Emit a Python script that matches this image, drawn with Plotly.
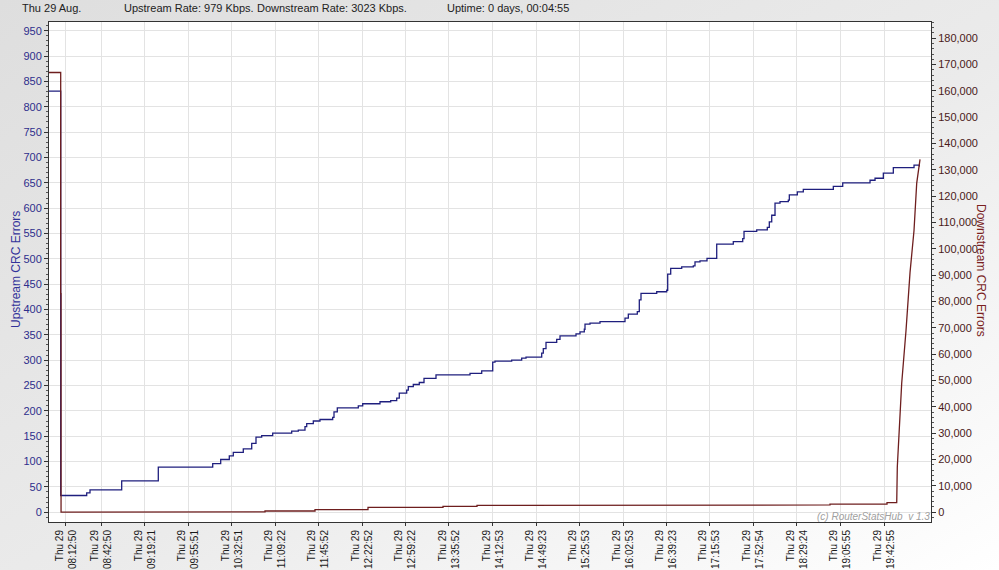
import base64
import plotly.graph_objects as go

DAY = "2013-08-29"

# Upstream CRC errors (left axis), step changes: time -> value
up_times = ["07:58:30", "08:08:22", "08:30:18", "08:33:05", "08:59:49", "09:30:42",
            "10:16:36", "10:23:20", "10:30:36", "10:33:58", "10:42:24", "10:49:30",
            "10:53:07", "10:57:55", "11:07:12", "11:23:14", "11:28:48", "11:34:27",
            "11:35:54", "11:41:28", "11:47:06", "11:57:49", "11:58:55", "12:01:42",
            "12:19:25", "12:23:08", "12:37:43", "12:46:45", "12:51:49", "12:54:00",
            "13:00:15", "13:01:36", "13:05:49", "13:10:52", "13:14:51", "13:24:58",
            "13:53:39", "14:03:31", "14:12:48", "14:14:44", "14:28:49", "14:37:15",
            "14:40:53", "14:54:08", "14:55:29", "14:57:46", "15:06:47", "15:09:34",
            "15:23:04", "15:26:27", "15:30:04", "15:30:40", "15:34:53", "15:43:19",
            "16:04:24", "16:07:12", "16:14:47", "16:16:28", "16:17:54", "16:31:09",
            "16:39:35", "16:40:25", "16:42:57", "16:52:14", "17:02:01", "17:03:27",
            "17:07:40", "17:13:35", "17:21:46", "17:35:46", "17:43:42", "17:44:48",
            "17:55:31", "18:04:27", "18:06:08", "18:08:10", "18:10:57", "18:15:10",
            "18:22:10", "18:23:01", "18:29:46", "18:34:49", "19:00:08", "19:08:04",
            "19:31:06", "19:35:19", "19:42:19", "19:50:45", "20:08:13", "20:12:41"]
up_values = [831, 33, 38, 44, 62, 89,
             96, 104, 111, 118, 125, 136,
             148, 151, 156, 160, 162, 169,
             175, 180, 183, 187, 198, 206,
             210, 214, 218, 220, 225, 235,
             241, 248, 252, 256, 264, 271,
             274, 279, 296, 298, 300, 304,
             306, 314, 323, 335, 341, 348,
             352, 356, 361, 371, 373, 376,
             383, 391, 396, 419, 432, 435,
             438, 470, 481, 484, 486, 494,
             496, 501, 529, 534, 540, 554,
             557, 562, 573, 586, 610, 613,
             616, 626, 632, 637, 643, 650,
             655, 659, 669, 680, 685, 682]

# Downstream CRC errors (right axis), step part
down_times = ["07:58:30", "08:08:22", "08:08:40", "09:15:16", "11:00:43", "11:42:54",
              "12:27:36", "13:30:52", "13:59:33", "17:27:04", "18:57:20", "19:45:26",
              "19:53:37"]
down_values = [167000, 83000, 0, 100, 450, 950,
               1850, 2250, 2600, 2750, 3100, 3600,
               3600]
# Downstream CRC errors, final climb (sampled continuously)
rise_times = ["19:54:07", "19:57:49", "20:01:27", "20:04:50", "20:08:12", "20:10:29", "20:13:16"]
rise_values = [17300, 49000, 69000, 91000, 107000, 125000, 134000]

tick_times = ["08:12:50", "08:42:50", "09:19:21", "09:55:51", "10:32:51", "11:09:22",
              "11:45:52", "12:22:52", "12:59:22", "13:35:52", "14:12:53", "14:49:23",
              "15:25:53", "16:02:53", "16:39:23", "17:15:53", "17:52:54", "18:29:24",
              "19:05:55", "19:42:55"]
tick_day_label = "Thu 29"

header_texts = ["Thu 29 Aug.", "Upstream Rate: 979 Kbps.", "Downstream Rate: 3023 Kbps.",
                "Uptime: 0 days, 00:04:55"]


def stamp(t):
    return f"{DAY} {t}"


def expand_steps(ts, vs):
    xs, ys = [], []
    for i, (t, v) in enumerate(zip(ts, vs)):
        if i > 0:
            xs.append(t)
            ys.append(vs[i - 1])
        xs.append(t)
        ys.append(v)
    return xs, ys


dx, dy = expand_steps([stamp(t) for t in down_times], down_values)
dx += [stamp(t) for t in rise_times]
dy += rise_values

W, H = 999, 570
ML, MR, MT, MB = 49, 68, 22, 48
PW, PH = W - ML - MR, H - MT - MB


def px(x):
    return (x - ML) / PW


def py(y):
    return (H - MB - y) / PH


# background: soft diagonal grey gradient, white plotting area
svg = f"""<svg xmlns='http://www.w3.org/2000/svg' width='{W}' height='{H}'>
<defs><linearGradient id='g' x1='0' y1='0' x2='1' y2='1'>
<stop offset='0' stop-color='#dedede'/><stop offset='0.55' stop-color='#ebebeb'/>
<stop offset='1' stop-color='#ffffff'/></linearGradient></defs>
<rect width='{W}' height='{H}' fill='url(#g)'/>
<rect x='{ML}' y='{MT}' width='{PW}' height='{PH}' fill='#ffffff'/></svg>"""
bg_src = "data:image/svg+xml;base64," + base64.b64encode(svg.encode()).decode()

FONT = "Liberation Sans, Arial, sans-serif"
BLUE = "#1f1f7e"
BROWN = "#6e1e1e"

fig = go.Figure()
fig.add_trace(go.Scatter(
    x=[stamp(t) for t in up_times], y=up_values, mode="lines",
    line=dict(color=BLUE, width=1.3, shape="hv"), yaxis="y", showlegend=False))
fig.add_trace(go.Scatter(
    x=dx, y=dy, mode="lines",
    line=dict(color=BROWN, width=1.3), yaxis="y2", showlegend=False))

annotations = []
for txt, xpos in zip(header_texts, [20, 122, 255, 445]):
    annotations.append(dict(text=txt, x=px(xpos), y=py(8), xref="paper", yref="paper",
                            xanchor="left", yanchor="middle", showarrow=False,
                            font=dict(family=FONT, size=11, color="#222222")))
annotations.append(dict(text="Upstream CRC Errors", x=px(16), y=py(270), xref="paper",
                        yref="paper", textangle=-90, showarrow=False,
                        xanchor="center", yanchor="middle",
                        font=dict(family=FONT, size=12, color="#33339a")))
annotations.append(dict(text="Downstream CRC Errors", x=px(981), y=py(270), xref="paper",
                        yref="paper", textangle=90, showarrow=False,
                        xanchor="center", yanchor="middle",
                        font=dict(family=FONT, size=12, color="#7a1f1f")))
annotations.append(dict(text="<i>(c) RouterStatsHub  v 1.3</i>", x=px(932), y=py(516),
                        xref="paper", yref="paper", xanchor="right", yanchor="middle",
                        showarrow=False, font=dict(family=FONT, size=10, color="#a0a0a0")))

fig.update_layout(
    width=W, height=H,
    margin=dict(l=ML, r=MR, t=MT, b=MB, pad=0, autoexpand=False),
    paper_bgcolor="#ebebeb", plot_bgcolor="#ffffff",
    font=dict(family=FONT, size=11),
    annotations=annotations,
    images=[dict(source=bg_src, xref="paper", yref="paper",
                 x=-ML / PW, y=1 + MT / PH, sizex=W / PW, sizey=H / PH,
                 sizing="stretch", xanchor="left", yanchor="top", layer="below")],
    xaxis=dict(
        type="date", automargin=False,
        range=[stamp("07:58:30"), stamp("20:22:32")],
        tickvals=[stamp(t) for t in tick_times],
        ticktext=[f"{tick_day_label}<br>{t}" for t in tick_times],
        tickangle=-90, tickfont=dict(family=FONT, size=10, color="#1a1a1a"),
        showgrid=True, gridcolor="#e3e3e3", gridwidth=1,
        showline=True, linecolor="#333333", linewidth=1, mirror=True,
        ticks="outside", ticklen=3, tickcolor="#333333", zeroline=False,
    ),
    yaxis=dict(
        automargin=False,
        range=[-19.3, 967.3], dtick=50, tick0=0,
        tickfont=dict(family=FONT, size=11, color="#2e2e8c"),
        showgrid=True, gridcolor="#e3e3e3", gridwidth=1,
        showline=True, linecolor="#333333", linewidth=1,
        ticks="outside", ticklen=4, tickcolor="#333333", zeroline=False,
        minor=dict(dtick=10, ticks="outside", ticklen=2, tickcolor="#555555", showgrid=False),
    ),
    yaxis2=dict(
        automargin=False,
        range=[-3722, 186175], dtick=10000, tick0=0, overlaying="y", side="right",
        tickformat=",d",
        tickfont=dict(family=FONT, size=11, color="#4a1a1a"),
        showgrid=False,
        showline=True, linecolor="#333333", linewidth=1,
        ticks="outside", ticklen=4, tickcolor="#333333", zeroline=False,
        minor=dict(dtick=2000, ticks="outside", ticklen=2, tickcolor="#555555", showgrid=False),
    ),
)

fig.write_html("out.html")
